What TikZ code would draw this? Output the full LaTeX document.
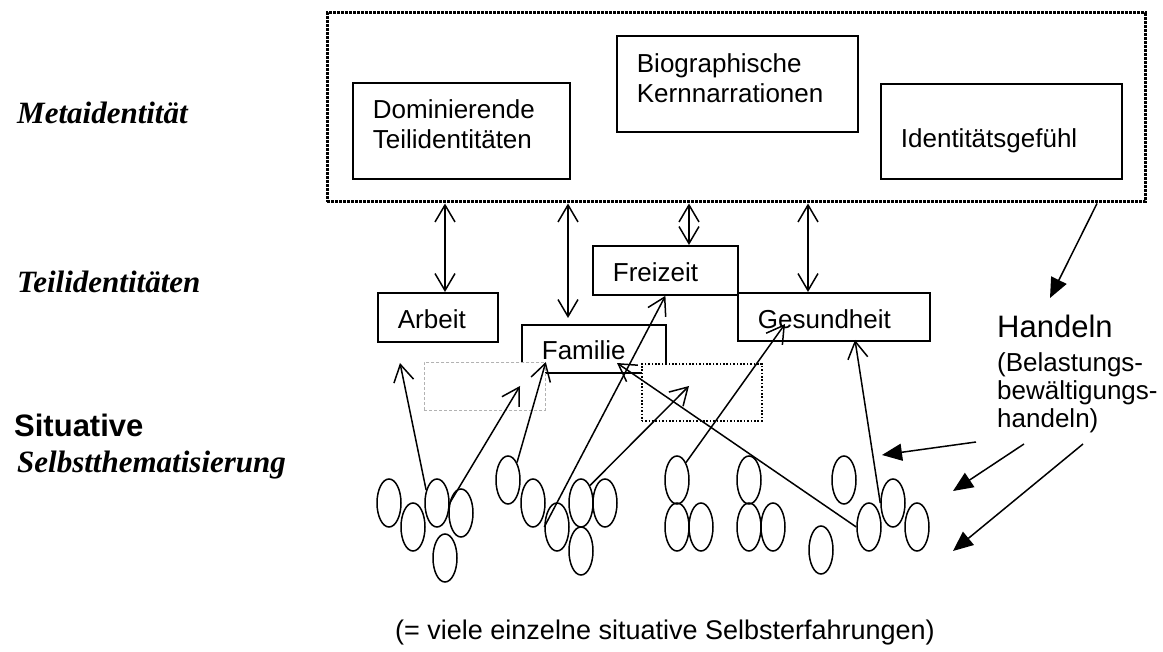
\documentclass[tikz,border=0pt]{standalone}
\usepackage{fontspec}
\setmainfont{Liberation Serif}
\setsansfont{Liberation Sans}
\usetikzlibrary{arrows.meta}
\usetikzlibrary{shapes.geometric}

\tikzset{
  box/.style={draw, line width=1.8pt, anchor=north west, align=left,
    inner xsep=20pt, inner ysep=0pt, text depth=0pt,
    font=\sffamily\fontsize{26}{30}\selectfont},
  level/.style={anchor=base west, inner sep=0pt,
    font=\bfseries\itshape\fontsize{31}{34}\selectfont},
  sit/.style={draw, ellipse, line width=1.5pt, minimum width=24pt,
    minimum height=48pt, inner sep=0pt},
  dblarr/.style={{Straight Barb[length=17pt,width=20pt]}-{Straight Barb[length=17pt,width=20pt]},
    line width=1.5pt},
  openarr/.style={-{Straight Barb[length=17pt,width=20pt]}, line width=1.5pt},
  fillarr/.style={-{Triangle[length=20pt,width=17pt]}, line width=1.5pt}
}

\begin{document}
\begin{tikzpicture}[x=1pt,y=-1pt]
\useasboundingbox (0,0) rectangle (1163,652);

% Ebenen links
\node[level] (lmeta) at (17,124) {Metaidentität};
\node[level] (lteil) at (17,293) {Teilidentitäten};
\node[level, font=\sffamily\bfseries\fontsize{31}{34}\selectfont] (lsit) at (14,437) {Situative};
\node[level] (lselbst) at (17,472) {Selbstthematisierung};

% Metaidentitaet
\node[draw, line width=3pt, dash pattern=on 3pt off 1pt, minimum width=818pt,
  minimum height=189pt] (meta) at (736,107.5) {};
\node[box, text width=177pt, minimum height=96pt, text height=20pt, text depth=44pt]
  (dom) at (352,82) {Dominierende\\Teilidentitäten};
\node[box, text width=201pt, minimum height=96pt, text height=20pt, text depth=42pt]
  (bio) at (616,35) {Biographische\\Kernnarrationen};
\node[box, text width=201pt, minimum height=95pt, text height=33pt]
  (gef) at (880,83) {Identitätsgefühl};

% Teilidentitaeten
\node[box, text width=80pt, minimum height=49pt, text height=23pt] (arb) at (377,292) {Arbeit};
\node[box, text width=105pt, minimum height=49pt, text height=23pt] (frz) at (592,245) {Freizeit};
\node[box, text width=152pt, minimum height=48pt, text height=24pt] (ges) at (737,292) {Gesundheit};
\node[box, text width=104pt, minimum height=48pt, text height=22pt] (fam) at (521,324) {Familie};

\node[draw=gray!60, fill=white, line width=0.8pt, dash pattern=on 3pt off 2pt,
  anchor=north west, minimum width=121pt, minimum height=48pt, inner sep=0pt] (gb) at (424,362) {};
\node[draw, fill=white, line width=1.6pt, dash pattern=on 1.6pt off 1.8pt,
  anchor=north west, minimum width=120pt, minimum height=57pt, inner sep=0pt] (db) at (641,363) {};

% Doppelpfeile
\coordinate (d1) at (445,0);
\coordinate (d2) at (568,0);
\coordinate (d3) at (689,0);
\coordinate (d4) at (808,0);
\draw[dblarr] (meta.south -| d1) -- (arb.north -| d1);
\draw[dblarr, shorten >=6pt] (meta.south -| d2) -- (fam.north -| d2);
\draw[dblarr] (meta.south -| d3) -- (frz.north -| d3);
\draw[dblarr] (meta.south -| d4) -- (ges.north -| d4);

% Handeln
\node[anchor=base west, align=left, text width=170pt, inner sep=0pt,
  font=\sffamily\fontsize{26}{28}\selectfont]
  (hand) at (997,338) {{\fontsize{31}{31}\selectfont Handeln}\\[6pt](Belastungs-\\bewältigungs-\\handeln)};
\coordinate (h0) at (1097,0);
\coordinate (h1) at (1050,298);
\draw[fillarr] (meta.south -| h0) -- (h1);

% situative Selbsterfahrungen
\node[sit] (s1) at (389,503) {};
\node[sit] (s2) at (413,527) {};
\node[sit] (s3) at (437,503) {};
\node[sit] (s4) at (461,513) {};
\node[sit] (s5) at (445,558) {};
\node[sit] (s6) at (508,480) {};
\node[sit] (s7) at (533,503) {};
\node[sit] (s8) at (557,527) {};
\node[sit] (s9) at (581,503) {};
\node[sit] (s10) at (605,503) {};
\node[sit] (s11) at (581,551) {};
\node[sit] (s12) at (677,480) {};
\node[sit] (s13) at (677,527) {};
\node[sit] (s14) at (701,527) {};
\node[sit] (s15) at (749,480) {};
\node[sit] (s16) at (749,527) {};
\node[sit] (s17) at (773,527) {};
\node[sit] (s18) at (844,480) {};
\node[sit] (s19) at (821,550) {};
\node[sit] (s20) at (869,527) {};
\node[sit] (s21) at (893,503) {};
\node[sit] (s22) at (917,527) {};

% Pfeile nach oben
\coordinate (p1) at (400,363);
\coordinate (p2) at (520,386);
\coordinate (p5) at (689,386);
\coordinate (p6) at (785,324);
\coordinate (p7) at (617,363);
\coordinate (p8) at (855,340);
\draw[openarr] (s3.130) -- (p1);
\draw[openarr] (s3.east) -- (p2);
\draw[openarr] (s6.north east) -- (gb.north east);
\draw[openarr] (s8.west) -- (frz.south);
\draw[openarr] (s9.north east) -- (p5);
\draw[openarr] (s12.north east) -- (p6);
\draw[openarr] (s20.west) -- (p7);
\draw[openarr] (s21.west) -- (p8);

% Pfeile vom Handeln
\coordinate (a1) at (976,442);
\coordinate (a2) at (1024,444);
\coordinate (a3) at (1083,444);
\coordinate (b1) at (882,455);
\coordinate (b2) at (953,491);
\coordinate (b3) at (953,551);
\draw[fillarr] (a1) -- (b1);
\draw[fillarr] (a2) -- (b2);
\draw[fillarr] (a3) -- (b3);

\node[anchor=base, inner sep=0pt, font=\sffamily\fontsize{27}{30}\selectfont] (note) at (665,639)
  {(= viele einzelne situative Selbsterfahrungen)};
\end{tikzpicture}
\end{document}
